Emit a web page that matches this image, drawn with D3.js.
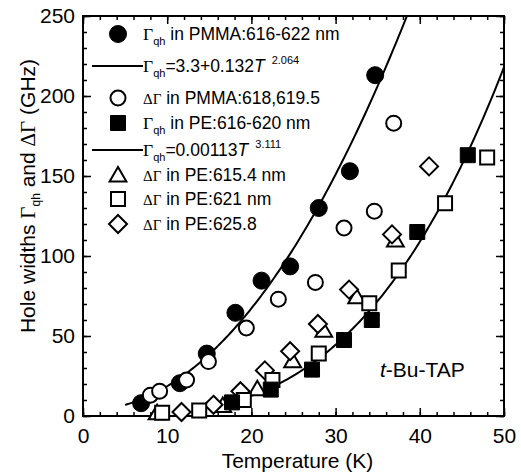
<!DOCTYPE html>
<html><head><meta charset="utf-8">
<script src="https://cdn.jsdelivr.net/npm/d3@7"></script>
<style>body{margin:0;background:#fff} svg{display:block}</style>
</head><body><svg id="c" width="521" height="474"></svg>
<script>
// ---- data ----
const xTicks = [0, 10, 20, 30, 40, 50];
const yTicks = [0, 50, 100, 150, 200, 250];
// Γqh in PMMA (filled circles)
const pmmaGqhT = [6.9, 11.5, 14.7, 18.1, 21.2, 24.6, 28.0, 31.7, 34.7];
const pmmaGqhV = [8, 20.5, 39, 64.5, 84.6, 93.5, 130, 153, 213];
// ΔΓ in PMMA (open circles)
const pmmaDgT = [8.0, 9.1, 12.3, 14.9, 19.4, 23.2, 27.6, 31.0, 34.6, 36.9];
const pmmaDgV = [13, 15.5, 22.5, 34, 55, 73, 83.5, 117.5, 128, 183];
// Γqh in PE (filled squares)
const peGqhT = [17.7, 22.3, 27.2, 31.0, 34.3, 39.7, 45.7];
const peGqhV = [8.5, 16.5, 29, 47.5, 60, 115, 163];
// ΔΓ in PE 615.4 nm (triangles)
const pe615T = [8.8, 16.6, 20.7, 24.9, 28.6, 32.5, 37.1];
const pe615V = [2, 6.5, 17, 34.5, 53.5, 74.5, 110];
// ΔΓ in PE 621 nm (open squares)
const pe621T = [9.4, 13.8, 19.1, 22.5, 28.0, 34.0, 37.5, 43.0, 48.0];
const pe621V = [2, 3.5, 10, 22.5, 39, 70.5, 91, 133, 161.5];
// ΔΓ in PE 625.8 (diamonds)
const pe625T = [11.7, 15.5, 18.7, 21.6, 24.6, 27.9, 31.6, 36.7, 41.1];
const pe625V = [2.5, 7, 15.5, 28.5, 40.5, 57.5, 79, 113.5, 156];
// fit parameters [a, b, n]: Γ = a + b*T^n
const fitPMMA = [3.3, 0.132, 2.064];
const fitPE = [0, 0.00113, 3.111];
const fitPMMARange = [5, 40];
const fitPERange = [16, 50];

// ---- layout ----
const svg = d3.select('#c');
const L = 83, R = 504, T = 16, B = 416;
const x = d3.scaleLinear().domain([0, 50]).range([L, R]);
const y = d3.scaleLinear().domain([0, 250]).range([B, T]);
const FONT = "'Liberation Sans', Arial, sans-serif";
const SERIF = "'Liberation Serif', 'Times New Roman', serif";

svg.append('defs').append('clipPath').attr('id', 'clip')
  .append('rect').attr('x', L).attr('y', T).attr('width', R - L).attr('height', B - T);

// axes
function styleAxis(g) {
  g.select('.domain').remove();
  g.selectAll('.tick line').attr('stroke', '#000').attr('stroke-width', 1.5);
  g.selectAll('text').attr('font-family', FONT).attr('font-size', 21).attr('fill', '#000');
}
const minorX = d3.range(0, 51, 2), minorY = d3.range(0, 251, 10);
svg.append('g').attr('transform', `translate(0,${B})`)
  .call(d3.axisBottom(x).tickValues(minorX).tickSize(-4).tickFormat('')).call(styleAxis);
svg.append('g').attr('transform', `translate(0,${B})`)
  .call(d3.axisBottom(x).tickValues(xTicks).tickSize(-8).tickPadding(12).tickFormat(d3.format('d'))).call(styleAxis);
svg.append('g').attr('transform', `translate(0,${T})`)
  .call(d3.axisTop(x).tickValues(minorX).tickSize(-4).tickFormat('')).call(styleAxis);
svg.append('g').attr('transform', `translate(0,${T})`)
  .call(d3.axisTop(x).tickValues(xTicks).tickSize(-8).tickFormat('')).call(styleAxis);
svg.append('g').attr('transform', `translate(${L},0)`)
  .call(d3.axisLeft(y).tickValues(minorY).tickSize(-4).tickFormat('')).call(styleAxis);
svg.append('g').attr('transform', `translate(${L},0)`)
  .call(d3.axisLeft(y).tickValues(yTicks).tickSize(-8).tickPadding(8).tickFormat(d3.format('d'))).call(styleAxis);
svg.append('g').attr('transform', `translate(${R},0)`)
  .call(d3.axisRight(y).tickValues(minorY).tickSize(-4).tickFormat('')).call(styleAxis);
svg.append('g').attr('transform', `translate(${R},0)`)
  .call(d3.axisRight(y).tickValues(yTicks).tickSize(-8).tickFormat('')).call(styleAxis);

svg.append('rect').attr('x', L).attr('y', T).attr('width', R - L).attr('height', B - T)
  .attr('fill', 'none').attr('stroke', '#000').attr('stroke-width', 2);

// axis titles
svg.append('text').attr('x', (L + R) / 2 + 4).attr('y', 468).attr('text-anchor', 'middle')
  .attr('font-family', FONT).attr('font-size', 21).text('Temperature (K)');
const yl = svg.append('text').attr('transform', 'translate(35,196) rotate(-90)')
  .attr('text-anchor', 'middle').attr('font-family', FONT).attr('font-size', 21);
yl.append('tspan').text('Hole widths ');
yl.append('tspan').attr('font-family', SERIF).text('Γ');
yl.append('tspan').attr('font-size', 12).attr('dy', 5).text('qh');
yl.append('tspan').attr('dy', -5).text(' and ');
yl.append('tspan').attr('font-family', SERIF).text('ΔΓ');
yl.append('tspan').text(' (GHz)');

// fit curves
function fitCurve(p, range) {
  const pts = d3.range(range[0], range[1] + 0.001, 0.25).map(t => [t, p[0] + p[1] * Math.pow(t, p[2])]);
  return d3.line().x(d => x(d[0])).y(d => y(d[1]))(pts);
}
const cg = svg.append('g').attr('clip-path', 'url(#clip)');
cg.append('path').attr('d', fitCurve(fitPMMA, fitPMMARange)).attr('fill', 'none').attr('stroke', '#000').attr('stroke-width', 2);
cg.append('path').attr('d', fitCurve(fitPE, fitPERange)).attr('fill', 'none').attr('stroke', '#000').attr('stroke-width', 2);

// symbol drawers
const shapes = {
  circle: r => `M${-r},0A${r},${r} 0 1,0 ${r},0A${r},${r} 0 1,0 ${-r},0Z`,
  square: s => `M${-s},${-s}H${s}V${s}H${-s}Z`,
  triangle: s => `M0,${-s}L${s * 1.05},${s * 0.8}H${-s * 1.05}Z`,
  diamond: s => `M0,${-s}L${s},0L0,${s}L${-s},0Z`
};
function drawSym(g, kind, size, filled, cx, cy) {
  g.append('path').attr('d', shapes[kind](size)).attr('transform', `translate(${cx},${cy})`)
    .attr('fill', filled ? '#000' : '#fff').attr('stroke', '#000').attr('stroke-width', filled ? 1 : 2);
}
const series = [
  {T: pmmaGqhT, V: pmmaGqhV, kind: 'circle', size: 8.5, filled: true},
  {T: pmmaDgT, V: pmmaDgV, kind: 'circle', size: 7.5, filled: false},
  {T: pe615T, V: pe615V, kind: 'triangle', size: 8, filled: false},
  {T: pe625T, V: pe625V, kind: 'diamond', size: 9, filled: false},
  {T: pe621T, V: pe621V, kind: 'square', size: 7, filled: false},
  {T: peGqhT, V: peGqhV, kind: 'square', size: 7.5, filled: true}
];
const pg = svg.append('g');
series.forEach(s => s.T.forEach((t, i) => drawSym(pg, s.kind, s.size, s.filled, x(t), y(s.V[i]))));

// legend
const lg = svg.append('g').attr('font-family', FONT).attr('font-size', 17.5);
const symX = 118, txtX = 143;
function gq(t) { // Γqh
  t.append('tspan').attr('font-family', SERIF).attr('font-size', 17.5).text('Γ');
  t.append('tspan').attr('font-size', 11).attr('dy', 5).text('qh');
}
function dg(t) {
  t.append('tspan').attr('font-family', SERIF).attr('font-size', 15).text('ΔΓ');
}
const rows = [
  {y: 34, kind: 'circle', size: 8.5, filled: true, build: t => { gq(t); t.append('tspan').attr('dy', -5).text(' in PMMA:616-622 nm'); }},
  {y: 66, line: true, build: t => { gq(t); t.append('tspan').attr('dy', -5).text('=3.3+0.132'); t.append('tspan').attr('font-style', 'italic').text('T'); t.append('tspan').attr('font-size', 11).attr('dx', 7).attr('dy', -8).text('2.064'); }},
  {y: 98, kind: 'circle', size: 7.5, filled: false, build: t => { dg(t); t.append('tspan').text(' in PMMA:618,619.5'); }},
  {y: 123, kind: 'square', size: 7.5, filled: true, build: t => { gq(t); t.append('tspan').attr('dy', -5).text(' in PE:616-620 nm'); }},
  {y: 150, line: true, build: t => { gq(t); t.append('tspan').attr('dy', -5).text('=0.00113'); t.append('tspan').attr('font-style', 'italic').text('T'); t.append('tspan').attr('font-size', 11).attr('dx', 7).attr('dy', -8).text('3.111'); }},
  {y: 175, kind: 'triangle', size: 8, filled: false, build: t => { dg(t); t.append('tspan').text(' in PE:615.4 nm'); }},
  {y: 199, kind: 'square', size: 7, filled: false, build: t => { dg(t); t.append('tspan').text(' in PE:621 nm'); }},
  {y: 224, kind: 'diamond', size: 9, filled: false, build: t => { dg(t); t.append('tspan').text(' in PE:625.8'); }}
];
rows.forEach(r => {
  if (r.line) lg.append('line').attr('x1', 92).attr('x2', 143).attr('y1', r.y).attr('y2', r.y).attr('stroke', '#000').attr('stroke-width', 2);
  else drawSym(lg, r.kind, r.size, r.filled, symX, r.y);
  const t = lg.append('text').attr('x', txtX).attr('y', r.y + 6);
  r.build(t);
});

// annotation
const ann = svg.append('text').attr('x', 380).attr('y', 377).attr('font-family', FONT).attr('font-size', 21);
ann.append('tspan').attr('font-style', 'italic').text('t');
ann.append('tspan').text('-Bu-TAP');
</script>
</body></html>
